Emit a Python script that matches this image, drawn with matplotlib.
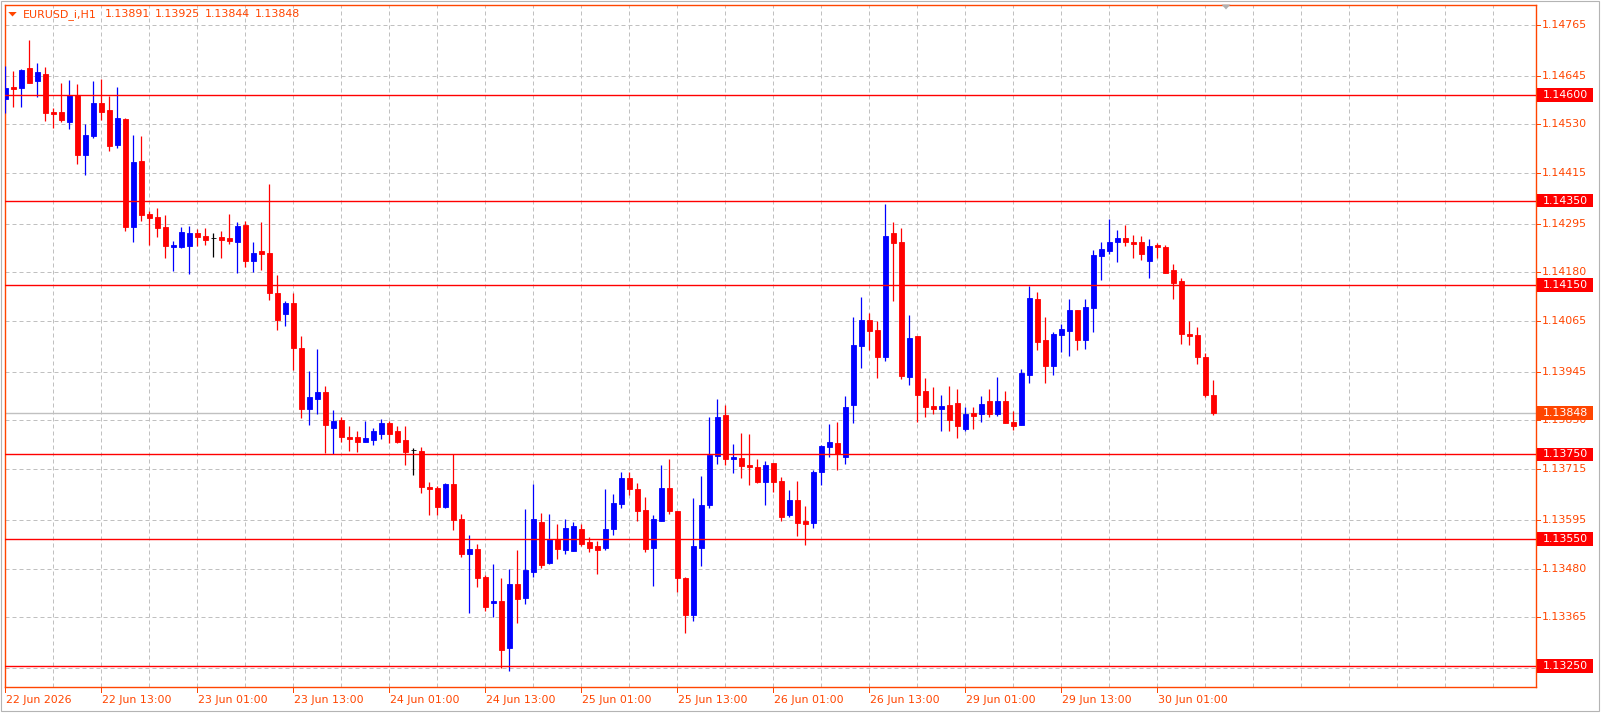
import matplotlib
matplotlib.use('Agg')
import matplotlib.pyplot as plt
import matplotlib.transforms as mtransforms
from matplotlib.patches import Rectangle, Polygon

plt.rcParams['font.family'] = ['DejaVu Sans']

# EURUSD_i H1 candles, 22 Jun 2026 -> 30 Jun 2026
opens = [1.14589, 1.14618, 1.14617, 1.14663, 1.14633, 1.14649, 1.14560, 1.14560, 1.14536, 1.14600,
         1.14458, 1.14503, 1.14581, 1.14564, 1.14482, 1.14543, 1.14288, 1.14443, 1.14318, 1.14311,
         1.14287, 1.14240, 1.14240, 1.14243, 1.14273, 1.14266, 1.14261, 1.14264, 1.14261, 1.14253,
         1.14292, 1.14208, 1.14231, 1.14226, 1.14131, 1.14082, 1.14108, 1.14001, 1.13856, 1.13881,
         1.13897, 1.13813, 1.13831, 1.13791, 1.13791, 1.13779, 1.13784, 1.13799, 1.13824, 1.13805,
         1.13784, 1.13760, 1.13758, 1.13673, 1.13670, 1.13626, 1.13680, 1.13597, 1.13515, 1.13526,
         1.13460, 1.13399, 1.13403, 1.13291, 1.13443, 1.13411, 1.13473, 1.13590, 1.13492, 1.13550,
         1.13525, 1.13522, 1.13574, 1.13543, 1.13533, 1.13529, 1.13574, 1.13633, 1.13694, 1.13668,
         1.13619, 1.13529, 1.13593, 1.13670, 1.13616, 1.13458, 1.13371, 1.13529, 1.13630, 1.13747,
         1.13843, 1.13740, 1.13741, 1.13725, 1.13720, 1.13685, 1.13730, 1.13687, 1.13607, 1.13642,
         1.13592, 1.13588, 1.13709, 1.13768, 1.13777, 1.13744, 1.13867, 1.14007, 1.14068, 1.14044,
         1.13979, 1.14273, 1.14252, 1.13934, 1.14030, 1.13900, 1.13864, 1.13856, 1.13867, 1.13871,
         1.13811, 1.13848, 1.13846, 1.13876, 1.13846, 1.13876, 1.13827, 1.13820, 1.13938, 1.14117,
         1.14020, 1.13960, 1.14033, 1.14042, 1.14091, 1.14021, 1.14097, 1.14220, 1.14231, 1.14253,
         1.14261, 1.14252, 1.14252, 1.14208, 1.14245, 1.14240, 1.14186, 1.14160, 1.14034, 1.14032,
         1.13981, 1.13891]
highs = [1.14668, 1.14656, 1.14660, 1.14730, 1.14675, 1.14666, 1.14568, 1.14629, 1.14635, 1.14626,
         1.14531, 1.14633, 1.14637, 1.14597, 1.14618, 1.14545, 1.14505, 1.14503, 1.14325, 1.14332,
         1.14316, 1.14254, 1.14287, 1.14290, 1.14283, 1.14285, 1.14273, 1.14278, 1.14318, 1.14299,
         1.14302, 1.14252, 1.14299, 1.14389, 1.14174, 1.14113, 1.14131, 1.14030, 1.13947, 1.13999,
         1.13912, 1.13855, 1.13838, 1.13817, 1.13805, 1.13829, 1.13812, 1.13834, 1.13829, 1.13817,
         1.13817, 1.13765, 1.13768, 1.13685, 1.13675, 1.13682, 1.13750, 1.13609, 1.13559, 1.13538,
         1.13465, 1.13491, 1.13458, 1.13479, 1.13524, 1.13621, 1.13680, 1.13611, 1.13609, 1.13585,
         1.13597, 1.13590, 1.13585, 1.13555, 1.13545, 1.13668, 1.13656, 1.13708, 1.13708, 1.13682,
         1.13649, 1.13607, 1.13725, 1.13739, 1.13616, 1.13460, 1.13647, 1.13699, 1.13838, 1.13881,
         1.13867, 1.13774, 1.13800, 1.13798, 1.13740, 1.13735, 1.13730, 1.13696, 1.13666, 1.13687,
         1.13628, 1.13713, 1.13772, 1.13822, 1.13826, 1.13888, 1.14075, 1.14122, 1.14084, 1.14065,
         1.14342, 1.14299, 1.14285, 1.14079, 1.14030, 1.13930, 1.13909, 1.13890, 1.13912, 1.13905,
         1.13862, 1.13862, 1.13888, 1.13905, 1.13933, 1.13900, 1.13852, 1.13952, 1.14148, 1.14134,
         1.14075, 1.14039, 1.14058, 1.14117, 1.14091, 1.14117, 1.14233, 1.14252, 1.14306, 1.14280,
         1.14292, 1.14269, 1.14266, 1.14259, 1.14250, 1.14245, 1.14200, 1.14167, 1.14065, 1.14051,
         1.13989, 1.13925]
lows = [1.14556, 1.14570, 1.14570, 1.14627, 1.14595, 1.14539, 1.14522, 1.14536, 1.14520, 1.14437,
        1.14411, 1.14499, 1.14540, 1.14468, 1.14475, 1.14278, 1.14253, 1.14302, 1.14245, 1.14264,
        1.14214, 1.14184, 1.14238, 1.14176, 1.14243, 1.14245, 1.14217, 1.14214, 1.14248, 1.14179,
        1.14193, 1.14181, 1.14186, 1.14115, 1.14045, 1.14053, 1.13949, 1.13837, 1.13820, 1.13846,
        1.13754, 1.13751, 1.13779, 1.13758, 1.13756, 1.13778, 1.13772, 1.13786, 1.13777, 1.13777,
        1.13725, 1.13701, 1.13659, 1.13607, 1.13607, 1.13622, 1.13570, 1.13507, 1.13376, 1.13437,
        1.13380, 1.13365, 1.13244, 1.13238, 1.13352, 1.13395, 1.13461, 1.13482, 1.13491, 1.13503,
        1.13515, 1.13521, 1.13534, 1.13518, 1.13468, 1.13525, 1.13560, 1.13622, 1.13655, 1.13593,
        1.13520, 1.13439, 1.13592, 1.13610, 1.13425, 1.13328, 1.13357, 1.13487, 1.13624, 1.13728,
        1.13725, 1.13707, 1.13695, 1.13678, 1.13683, 1.13631, 1.13660, 1.13593, 1.13603, 1.13558,
        1.13536, 1.13577, 1.13678, 1.13744, 1.13714, 1.13726, 1.13825, 1.13953, 1.13997, 1.13931,
        1.13971, 1.14113, 1.13929, 1.13915, 1.13826, 1.13839, 1.13846, 1.13804, 1.13804, 1.13789,
        1.13804, 1.13811, 1.13827, 1.13839, 1.13840, 1.13824, 1.13808, 1.13819, 1.13919, 1.13997,
        1.13919, 1.13938, 1.13993, 1.13983, 1.13997, 1.14000, 1.14040, 1.14163, 1.14224, 1.14205,
        1.14243, 1.14215, 1.14209, 1.14168, 1.14215, 1.14178, 1.14118, 1.14012, 1.14009, 1.13964,
        1.13886, 1.13844]
closes = [1.14615, 1.14614, 1.14659, 1.14629, 1.14654, 1.14558, 1.14555, 1.14540, 1.14600, 1.14458,
          1.14505, 1.14581, 1.14560, 1.14480, 1.14545, 1.14288, 1.14441, 1.14317, 1.14309, 1.14286,
          1.14243, 1.14245, 1.14276, 1.14273, 1.14264, 1.14257, 1.14261, 1.14257, 1.14255, 1.14290,
          1.14208, 1.14226, 1.14224, 1.14131, 1.14068, 1.14107, 1.14002, 1.13856, 1.13886, 1.13897,
          1.13820, 1.13829, 1.13792, 1.13786, 1.13779, 1.13789, 1.13805, 1.13824, 1.13799, 1.13779,
          1.13756, 1.13760, 1.13673, 1.13668, 1.13626, 1.13680, 1.13595, 1.13514, 1.13526, 1.13458,
          1.13390, 1.13404, 1.13288, 1.13443, 1.13409, 1.13477, 1.13597, 1.13489, 1.13550, 1.13527,
          1.13576, 1.13581, 1.13539, 1.13529, 1.13525, 1.13574, 1.13635, 1.13694, 1.13667, 1.13617,
          1.13526, 1.13596, 1.13670, 1.13617, 1.13458, 1.13369, 1.13533, 1.13630, 1.13749, 1.13838,
          1.13740, 1.13744, 1.13723, 1.13721, 1.13685, 1.13725, 1.13685, 1.13603, 1.13642, 1.13588,
          1.13586, 1.13708, 1.13770, 1.13779, 1.13750, 1.13862, 1.14008, 1.14068, 1.14042, 1.13979,
          1.14266, 1.14250, 1.13936, 1.14025, 1.13891, 1.13863, 1.13856, 1.13864, 1.13832, 1.13818,
          1.13845, 1.13841, 1.13869, 1.13846, 1.13876, 1.13825, 1.13818, 1.13942, 1.14120, 1.14016,
          1.13960, 1.14034, 1.14046, 1.14091, 1.14021, 1.14098, 1.14221, 1.14235, 1.14252, 1.14261,
          1.14253, 1.14248, 1.14224, 1.14243, 1.14241, 1.14179, 1.14156, 1.14035, 1.14030, 1.13981,
          1.13890, 1.13848]

time_labels = ['22 Jun 2026', '22 Jun 13:00', '23 Jun 01:00', '23 Jun 13:00', '24 Jun 01:00',
               '24 Jun 13:00', '25 Jun 01:00', '25 Jun 13:00', '26 Jun 01:00', '26 Jun 13:00',
               '29 Jun 01:00', '29 Jun 13:00', '30 Jun 01:00']
time_label_bars = [0, 12, 24, 36, 48, 60, 72, 84, 96, 108, 120, 132, 144]
price_ticks = [1.14765, 1.14645, 1.14530, 1.14415, 1.14295, 1.14180, 1.14065,
               1.13945, 1.13830, 1.13715, 1.13595, 1.13480, 1.13365]
level_lines = [1.14600, 1.14350, 1.14150, 1.13750, 1.13550, 1.13250]
last_price = 1.13848
title_parts = ['EURUSD_i,H1', '1.13891', '1.13925', '1.13844', '1.13848']

FG = '#FF4500'
GRID = '#C0C0C0'
FS = 7.9
W, H = 1601, 713

fig = plt.figure(figsize=(W / 100, H / 100), dpi=100)
fig.patch.set_facecolor('white')

# plot box in pixels (from the top-left)
x0, x1, y0, y1 = 4.5, 1535.7, 4.7, 687.4
ax = fig.add_axes([x0 / W, 1 - y1 / H, (x1 - x0) / W, (y1 - y0) / H])
ax.set_xlim(-0.1, 191.3)
ax.set_ylim(1.13199, 1.14813)
ax.set_xticks([])
ax.set_yticks([])
for s in ax.spines.values():
    s.set_color(FG)
    s.set_linewidth(1.0)

fx = lambda px: (px - x0) / (x1 - x0)
fy = lambda py: (y1 - py) / (y1 - y0)
per_px = (1.14813 - 1.13199) / (y1 - y0)

# grid
for b in range(0, 192, 6):
    ax.axvline(b, color=GRID, lw=0.72, dashes=(4, 3), zorder=0)
for v in price_ticks + [1.13245]:
    ax.axhline(v, color=GRID, lw=0.72, dashes=(4, 3), zorder=0)

# bid line
ax.axhline(last_price, color=GRID, lw=1.0, zorder=1)

# candles
bars = list(range(len(opens)))
cols = []
for o, c in zip(opens, closes):
    if c > o:
        cols.append('#0000FF')
    elif c < o:
        cols.append('#FF0000')
    else:
        cols.append('black')
ax.vlines(bars, lows, highs, colors=cols, lw=0.9, zorder=3)
bottoms = [min(o, c) for o, c in zip(opens, closes)]
heights = [abs(c - o) for o, c in zip(opens, closes)]
ax.bar(bars, heights, bottom=bottoms, width=0.62, color=cols, edgecolor=cols,
       linewidth=0.6, zorder=3)

# horizontal levels
for v in level_lines:
    ax.axhline(v, color='#FF0000', lw=1.0, zorder=4)

# right price scale
trans = mtransforms.blended_transform_factory(ax.transAxes, ax.transData)
for v in price_ticks:
    ax.plot([1, fx(1539.5)], [v, v], transform=trans, color=FG, lw=0.72, clip_on=False)
    ax.text(fx(1541.7), v, f'{v:.5f}', transform=trans, color=FG, fontsize=FS,
            ha='left', va='center', clip_on=False)

hh = 6.8 * per_px
for v in level_lines:
    ax.add_patch(Rectangle((fx(1537), v - hh), fx(1593) - fx(1537), 2 * hh, transform=trans,
                           facecolor='#FF0000', edgecolor='none', clip_on=False, zorder=6))
    ax.text(fx(1542.5), v, f'{v:.5f}', transform=trans, color='white', fontsize=FS,
            ha='left', va='center', clip_on=False, zorder=7)
ax.add_patch(Rectangle((fx(1537), last_price - hh), fx(1593) - fx(1537), 2 * hh, transform=trans,
                       facecolor=FG, edgecolor='none', clip_on=False, zorder=6))
ax.text(fx(1542.5), last_price, f'{last_price:.5f}', transform=trans, color='white', fontsize=FS,
        ha='left', va='center', clip_on=False, zorder=7)

# time scale
transb = mtransforms.blended_transform_factory(ax.transData, ax.transAxes)
for b, lab in zip(time_label_bars, time_labels):
    ax.plot([b, b], [0, fy(692)], transform=transb, color=FG, lw=0.72, clip_on=False)
    ax.text(b + 0.05, fy(700), lab, transform=transb, color=FG, fontsize=FS,
            ha='left', va='center', clip_on=False)

# title line
title_x = [23.3, 105, 155, 205, 254.3]
for px, t in zip(title_x, title_parts):
    fig.text(px / W, 1 - 14.3 / H, t, color=FG, fontsize=FS, ha='left', va='center')
ident = mtransforms.IdentityTransform()
fig.patches.append(Polygon([(8.3, H - 12.0), (16.7, H - 12.0), (12.5, H - 16.5)], closed=True,
                           facecolor=FG, edgecolor='none', transform=ident))
# chart shift marker
fig.patches.append(Polygon([(1221.5, H - 4.5), (1230.5, H - 4.5), (1226, H - 9.5)], closed=True,
                           facecolor='#B0B0B0', edgecolor='none', transform=ident))
# window frame
fig.patches.append(Rectangle((1, 2.5), 1597.7, 709.5, fill=False, edgecolor='#B4B4B4',
                             lw=0.8, transform=ident))

fig.savefig('out.png', dpi=100)
